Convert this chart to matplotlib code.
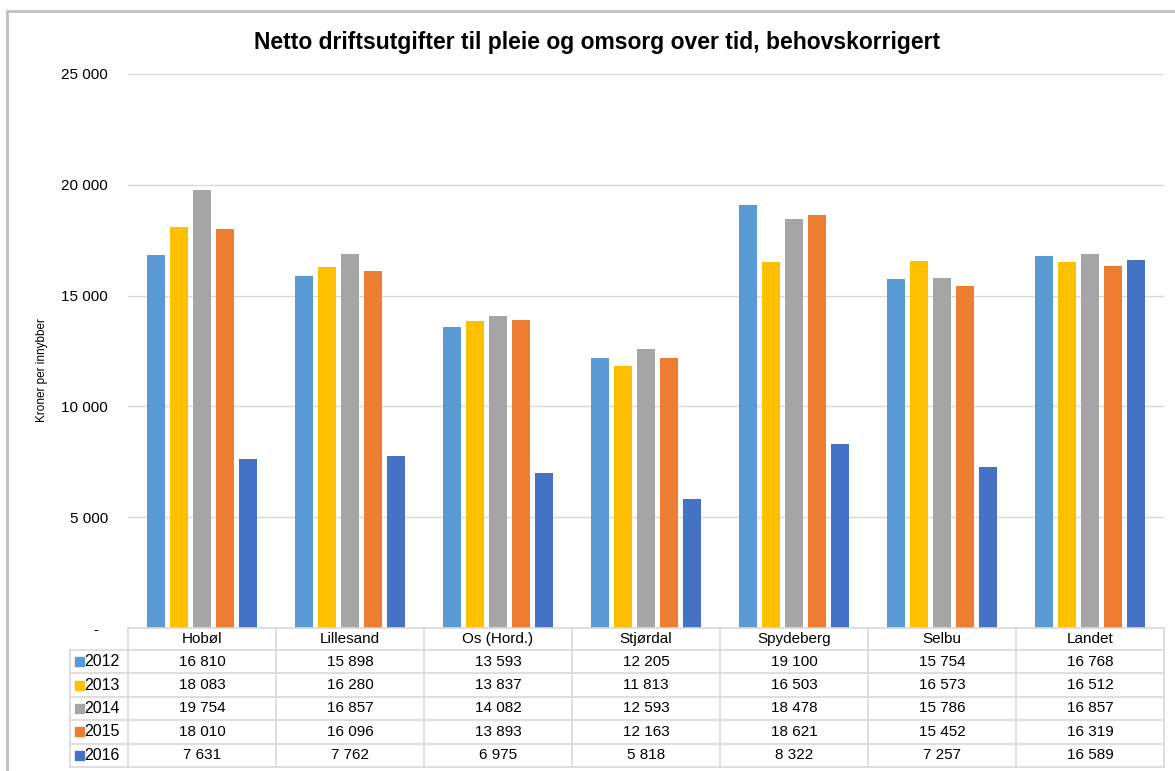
import matplotlib.pyplot as plt
import numpy as np
from matplotlib.transforms import blended_transform_factory
from matplotlib.patches import Rectangle
from matplotlib.lines import Line2D

plt.rcParams['font.family'] = ['Liberation Sans', 'DejaVu Sans']

# data fra tabellen under figuren
kommuner = ["Hobøl", "Lillesand", "Os (Hord.)", "Stjørdal", "Spydeberg", "Selbu", "Landet"]
aar = ["2012", "2013", "2014", "2015", "2016"]
v2012 = [16810, 15898, 13593, 12205, 19100, 15754, 16768]
v2013 = [18083, 16280, 13837, 11813, 16503, 16573, 16512]
v2014 = [19754, 16857, 14082, 12593, 18478, 15786, 16857]
v2015 = [18010, 16096, 13893, 12163, 18621, 15452, 16319]
v2016 = [7631, 7762, 6975, 5818, 8322, 7257, 16589]
farger = ["#5B9BD5", "#FFC000", "#A5A5A5", "#ED7D31", "#4472C4"]

W, H = 1175, 771


def fy(p):
    return 1 - p / H


def fmt(v):
    return f"{int(v):,}".replace(",", " ")


fig = plt.figure(figsize=(W / 100, H / 100), dpi=100)
ax = fig.add_axes([128 / W, fy(628), (1164 - 128) / W, (628 - 74) / H])

serier = [v2012, v2013, v2014, v2015, v2016]
x = np.arange(len(kommuner))
step = 0.155
bw = 0.124
for i, (s, c) in enumerate(zip(serier, farger)):
    ax.bar(x + (i - 2) * step, s, width=bw, color=c, zorder=3)

ax.set_yticks(np.arange(0, 25001, 5000))
ax.yaxis.set_major_formatter(lambda v, p: "-  " if v == 0 else fmt(v))
ax.tick_params(axis='y', length=0, pad=14.4, labelsize=11)
ax.set_xticks([])
ax.grid(axis='y', color='#D9D9D9', lw=1, zorder=0)
for sp in ax.spines.values():
    sp.set_visible(False)

# tabell under aksen
tr = blended_transform_factory(ax.transData, fig.transFigure)
rader = [628, 650, 673.4, 696.8, 720.2, 743.6, 767]
xlab = -0.5 - (128 - 70) / 148
lc = '#D9D9D9'
n = len(kommuner)
fig.add_artist(Line2D([-0.5, n - 0.5], [fy(628)] * 2, transform=tr, color=lc, lw=1.2))
for yp in rader[1:]:
    fig.add_artist(Line2D([xlab, n - 0.5], [fy(yp)] * 2, transform=tr, color=lc, lw=1.2))
for k in range(n + 1):
    fig.add_artist(Line2D([k - 0.5] * 2, [fy(628), fy(767)], transform=tr, color=lc, lw=1.2))
fig.add_artist(Line2D([xlab] * 2, [fy(650), fy(767)], transform=tr, color=lc, lw=1.2))

for j, navn in enumerate(kommuner):
    fig.text(j, fy(639), navn, transform=tr, ha='center', va='center', fontsize=11)

for i, (s, c, a) in enumerate(zip(serier, farger, aar)):
    yc = (rader[i + 1] + rader[i + 2]) / 2
    fig.add_artist(Rectangle((75 / W, fy(yc + 4.5)), 9 / W, 9 / H, color=c,
                             transform=fig.transFigure))
    fig.text(84 / W, fy(yc), a, ha='left', va='center', fontsize=11.5)
    for j, v in enumerate(s):
        fig.text(j, fy(yc), fmt(v), transform=tr, ha='center', va='center', fontsize=11)

ax.set_xlim(-0.5, n - 0.5)
ax.set_ylim(0, 25000)

fig.text(597 / W, fy(42), "Netto driftsutgifter til pleie og omsorg over tid, behovskorrigert",
         ha='center', va='center', fontsize=16.5, weight='bold')
fig.text(42 / W, fy(370), "Kroner per innybber", rotation=90, ha='center', va='center',
         fontsize=8.5)

fig.add_artist(Rectangle((7 / W, -0.05), 1.2, fy(11) + 0.05, fill=False,
                         edgecolor='#BFBFBF', lw=2, transform=fig.transFigure))

fig.savefig("out.png", dpi=100)
